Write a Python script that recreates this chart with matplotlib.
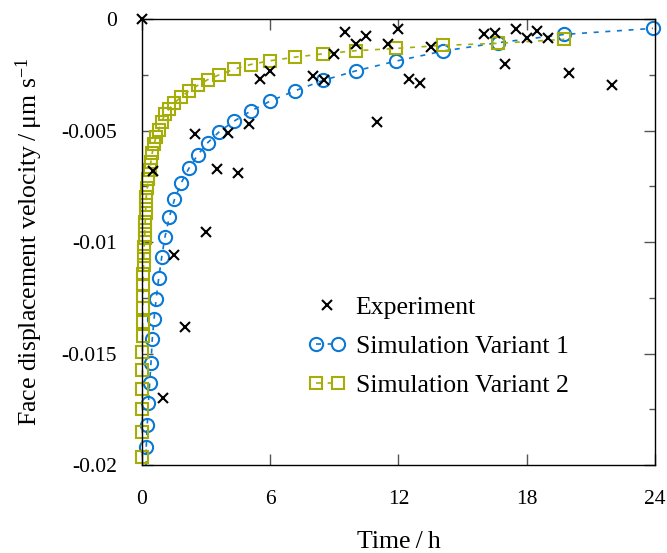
import numpy as np
import matplotlib
matplotlib.use("Agg")
import matplotlib.pyplot as plt
from matplotlib.legend_handler import HandlerLine2D

plt.rcParams['font.family'] = ['Liberation Serif', 'DejaVu Serif']
plt.rcParams['mathtext.fontset'] = 'custom'
plt.rcParams['mathtext.rm'] = 'Liberation Serif'
plt.rcParams['mathtext.it'] = 'Liberation Serif:italic'

# measured face displacement velocity (um/s) over time (h)
exp_time = [0, 0.5, 1, 1.5, 2, 2.5, 3, 3.5, 4, 4.5, 5, 5.5, 6, 8, 8.5, 9, 9.5,
            10, 10.5, 11, 11.5, 12, 12.5, 13, 13.5, 16, 16.5, 17, 17.5, 18,
            18.5, 19, 20, 22]
exp_vel = [0, -0.0068, -0.0170, -0.0106, -0.0138, -0.00515, -0.00955, -0.00674,
           -0.00509, -0.00689, -0.00472, -0.00269, -0.00234, -0.00256, -0.00274,
           -0.00156, -0.00057, -0.00114, -0.00076, -0.00461, -0.00111, -0.00045,
           -0.00269, -0.00286, -0.00124, -0.00066, -0.00061, -0.00202, -0.00045,
           -0.00084, -0.00055, -0.00084, -0.00241, -0.00298]

# simulation output times (shared by both variants)
sim_time = [0.01, 0.012, 0.014, 0.017, 0.02, 0.023, 0.027, 0.032, 0.038, 0.045,
            0.053, 0.063, 0.074, 0.087, 0.10, 0.12, 0.135, 0.15, 0.165, 0.18,
            0.20, 0.245, 0.30, 0.36, 0.42, 0.48, 0.56, 0.66, 0.78, 0.92,
            1.07, 1.28, 1.52, 1.84, 2.19, 2.60, 3.07, 3.62, 4.29, 5.08,
            6.0, 7.15, 8.48, 10.02, 11.87, 14.07, 16.67, 19.76, 23.9]

# variant 1 starts below the plotted range; values from t = 0.18 h on
sim1_vel = [-0.0211, -0.01918, -0.01821, -0.01721, -0.01631, -0.01541, -0.01436,
            -0.01347, -0.01257, -0.01163, -0.01069, -0.00979, -0.00887, -0.00809,
            -0.00734, -0.0067, -0.0061, -0.00555, -0.00505, -0.00459, -0.00413,
            -0.00368, -0.00322, -0.00275, -0.00232, -0.00189, -0.00144, -0.00106,
            -0.00069, -0.00042]

sim2_vel = [-0.01963, -0.01853, -0.01751, -0.01658, -0.01573, -0.01493, -0.01422,
            -0.01357, -0.01296, -0.01243, -0.01191, -0.01143, -0.01101, -0.01061,
            -0.01021, -0.00983, -0.00946, -0.00909, -0.00871, -0.00834, -0.00797,
            -0.00757, -0.00716, -0.00677, -0.00639, -0.006, -0.00562, -0.00528,
            -0.00496, -0.00462, -0.00426, -0.00402, -0.00375, -0.00349, -0.00323,
            -0.00298, -0.00272, -0.0025, -0.00226, -0.00204, -0.00187, -0.00171,
            -0.00156, -0.00142, -0.00132, -0.00118, -0.00109, -0.00091]

x_ticks = [0, 6, 12, 18, 24]
y_ticks = [0, -0.005, -0.01, -0.015, -0.02]
y_ticklabels = ['0', '-0.005', '-0.01', '-0.015', '-0.02']

blue = '#0a78d4'
green = '#a5ae08'
dash = (0, (3, 4))

fig = plt.figure(figsize=(6.67, 5.53), dpi=100)
ax = fig.add_axes([0.2129, 0.1591, 0.7691, 0.8065])

t1 = np.array(sim_time[-len(sim1_vel):])
v1 = np.array(sim1_vel)
t2 = np.array(sim_time[:len(sim2_vel)])
v2 = np.array(sim2_vel)

h_exp, = ax.plot(exp_time, exp_vel, ls='none', marker='x', color='k', ms=7,
                 mew=1.5, clip_on=False, label='Experiment', zorder=4)

# tail of variant 1 leaving the axes (clipped)
ax.plot(t1[:2], v1[:2], color=blue, lw=1.2, ls=dash)
vis = v1 >= -0.02
h1, = ax.plot(t1[vis], v1[vis], color=blue, lw=1.2, ls=dash, marker='o', ms=9.5,
              mfc='none', mew=1.5, clip_on=False, label='Simulation Variant 1')
h2, = ax.plot(t2, v2, color=green, lw=1.2, ls=dash, marker='s', ms=8.3,
              mfc='none', mew=1.5, clip_on=False, label='Simulation Variant 2')

ax.set_xlim(0, 24)
ax.set_ylim(-0.02, 0)
ax.set_xticks(x_ticks)
ax.set_xticklabels([str(x) for x in x_ticks])
ax.set_yticks(y_ticks)
ax.set_yticklabels(y_ticklabels)
ax.set_yticks(np.arange(-0.0175, 0, 0.005), minor=True)

ax.tick_params(which='both', direction='in', top=True, right=True,
               color='#555555', width=1.0, labelsize=15.5, pad=18)
ax.tick_params(which='major', length=8)
ax.tick_params(which='minor', length=4)
for s in ax.spines.values():
    s.set_linewidth(1.0)

ax.set_xlabel('Time\u2009/\u2009h', fontsize=18.5)
ax.set_ylabel('Face displacement velocity\u2009/\u2009\u03bcm s$^{-1}$', fontsize=18.5)
ax.xaxis.set_label_coords(0.5, -0.148)
ax.yaxis.set_label_coords(-0.19, 0.5)

ax.legend(handles=[h_exp, h1, h2], loc='upper left', bbox_to_anchor=(0.3236, 0.379),
          frameon=False, fontsize=18.5, handlelength=1.45, handletextpad=0.4,
          labelspacing=0.62, borderpad=0, borderaxespad=0, numpoints=2,
          handler_map={h_exp: HandlerLine2D(numpoints=1)})

fig.savefig('out.png', dpi=100)
